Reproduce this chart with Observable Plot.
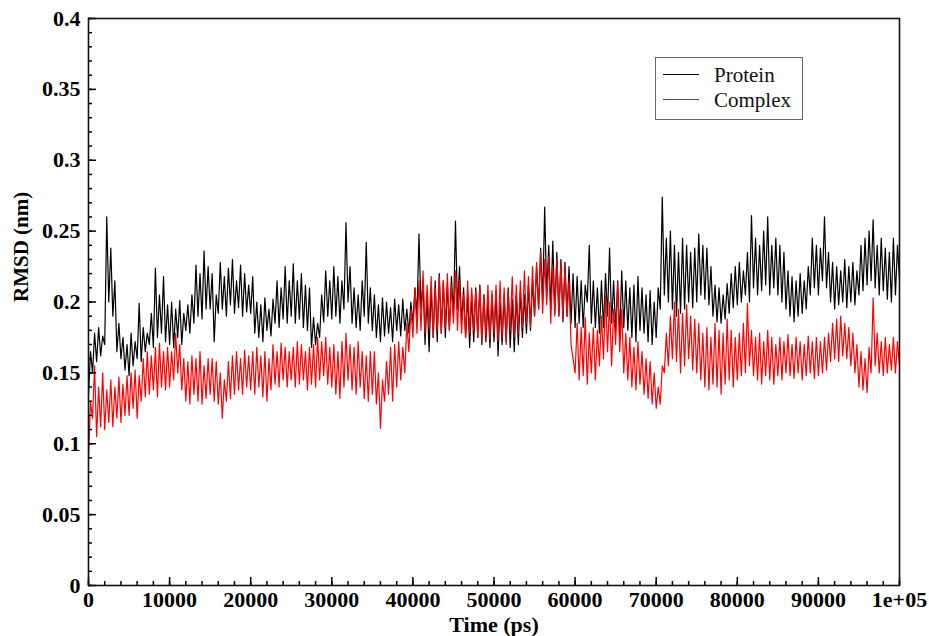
<!DOCTYPE html>
<html><head><meta charset="utf-8">
<script src="https://cdn.jsdelivr.net/npm/d3@7"></script>
<script src="https://cdn.jsdelivr.net/npm/@observablehq/plot@0.6"></script>
<style>
body{margin:0;background:#fff;}
#wrap{position:relative;width:929px;height:636px;overflow:hidden;}
#legend{position:absolute;left:655px;top:57px;width:146px;height:61px;border:1.5px solid #666;background:#fff;font-family:"Liberation Serif","Times New Roman",serif;font-size:21px;color:#111;}
.item{position:absolute;left:0;width:146px;height:24px;}
.swatch{position:absolute;left:7px;top:11px;width:36px;height:0;border-top:1.5px solid;}
.lab{position:absolute;left:58px;top:0;line-height:24px;}
</style></head>
<body>
<div id="wrap"></div>
<script>
const timeStep = 250;
const protein = [
  0.135,0.165,0.150,0.178,0.158,0.182,0.162,0.176,0.170,0.260, 0.200,0.238,0.190,0.215,0.165,0.185,0.160,0.175,0.152,0.170,
  0.148,0.178,0.155,0.172,0.160,0.199,0.158,0.182,0.165,0.178, 0.170,0.192,0.168,0.224,0.175,0.205,0.178,0.218,0.172,0.198,
  0.170,0.200,0.168,0.195,0.175,0.201,0.170,0.192,0.180,0.198, 0.178,0.205,0.185,0.226,0.190,0.220,0.188,0.236,0.195,0.225,
  0.195,0.220,0.172,0.205,0.192,0.228,0.195,0.218,0.190,0.224, 0.198,0.230,0.192,0.215,0.196,0.226,0.190,0.220,0.193,0.212,
  0.192,0.218,0.178,0.200,0.175,0.198,0.172,0.203,0.180,0.195, 0.176,0.202,0.185,0.215,0.182,0.210,0.188,0.225,0.185,0.215,
  0.190,0.227,0.185,0.215,0.188,0.220,0.182,0.212,0.180,0.210, 0.168,0.189,0.170,0.185,0.175,0.205,0.186,0.222,0.190,0.215,
  0.188,0.225,0.190,0.218,0.185,0.215,0.195,0.256,0.200,0.225, 0.185,0.210,0.182,0.205,0.180,0.215,0.190,0.242,0.185,0.210,
  0.180,0.205,0.175,0.198,0.172,0.203,0.176,0.200,0.178,0.196, 0.172,0.202,0.180,0.198,0.176,0.202,0.180,0.195,0.178,0.200,
  0.185,0.210,0.190,0.248,0.195,0.215,0.170,0.205,0.165,0.210, 0.175,0.215,0.172,0.220,0.178,0.215,0.175,0.212,0.180,0.218,
  0.190,0.257,0.195,0.225,0.185,0.210,0.175,0.205,0.168,0.205, 0.172,0.210,0.175,0.212,0.170,0.205,0.172,0.200,0.168,0.205,
  0.172,0.208,0.162,0.200,0.170,0.205,0.172,0.210,0.168,0.202, 0.165,0.205,0.170,0.208,0.175,0.205,0.178,0.212,0.180,0.215,
  0.190,0.225,0.195,0.238,0.200,0.267,0.205,0.240,0.195,0.243, 0.192,0.235,0.190,0.230,0.186,0.228,0.190,0.225,0.185,0.220,
  0.182,0.218,0.185,0.215,0.182,0.212,0.200,0.240,0.185,0.215, 0.182,0.210,0.178,0.215,0.182,0.220,0.190,0.238,0.185,0.215,
  0.180,0.215,0.175,0.222,0.182,0.215,0.180,0.210,0.175,0.212, 0.172,0.218,0.180,0.210,0.178,0.205,0.172,0.208,0.170,0.200,
  0.175,0.210,0.195,0.274,0.205,0.245,0.200,0.250,0.195,0.240, 0.190,0.235,0.192,0.245,0.195,0.240,0.200,0.235,0.196,0.238,
  0.200,0.248,0.205,0.240,0.202,0.238,0.198,0.225,0.190,0.212, 0.186,0.210,0.185,0.205,0.188,0.213,0.192,0.220,0.196,0.225,
  0.198,0.228,0.200,0.222,0.205,0.235,0.200,0.261,0.210,0.245, 0.205,0.240,0.208,0.250,0.212,0.260,0.205,0.240,0.210,0.245,
  0.205,0.240,0.200,0.235,0.195,0.222,0.190,0.218,0.186,0.215, 0.190,0.220,0.192,0.215,0.195,0.225,0.205,0.245,0.210,0.240,
  0.205,0.238,0.215,0.260,0.210,0.235,0.200,0.228,0.195,0.225, 0.198,0.222,0.200,0.230,0.196,0.225,0.200,0.228,0.198,0.222,
  0.205,0.240,0.208,0.245,0.212,0.250,0.215,0.258,0.210,0.240, 0.205,0.245,0.208,0.238,0.202,0.235,0.200,0.245,0.205,0.240,
  0.215
];
const complex = [
  0.090,0.130,0.118,0.155,0.105,0.140,0.112,0.150,0.110,0.138, 0.115,0.145,0.112,0.140,0.118,0.147,0.115,0.142,0.120,0.148,
  0.120,0.150,0.125,0.152,0.118,0.148,0.130,0.160,0.133,0.165, 0.135,0.162,0.138,0.168,0.133,0.171,0.140,0.165,0.138,0.168,
  0.140,0.165,0.145,0.178,0.150,0.170,0.138,0.160,0.130,0.158, 0.128,0.162,0.135,0.160,0.130,0.165,0.128,0.155,0.132,0.160,
  0.135,0.160,0.130,0.158,0.128,0.150,0.118,0.145,0.130,0.158, 0.132,0.162,0.135,0.165,0.138,0.160,0.135,0.166,0.140,0.162,
  0.138,0.165,0.135,0.168,0.140,0.162,0.133,0.165,0.130,0.160, 0.138,0.170,0.142,0.165,0.140,0.171,0.145,0.168,0.140,0.165,
  0.145,0.168,0.140,0.172,0.142,0.170,0.145,0.165,0.138,0.168, 0.142,0.170,0.140,0.175,0.145,0.172,0.148,0.175,0.142,0.168,
  0.140,0.170,0.135,0.165,0.132,0.172,0.140,0.178,0.145,0.170, 0.138,0.168,0.135,0.172,0.140,0.165,0.132,0.162,0.130,0.165,
  0.135,0.165,0.128,0.150,0.111,0.145,0.130,0.158,0.135,0.168, 0.130,0.170,0.140,0.172,0.145,0.168,0.150,0.185,0.165,0.195,
  0.175,0.210,0.178,0.215,0.180,0.222,0.178,0.212,0.182,0.218, 0.175,0.210,0.180,0.218,0.178,0.215,0.182,0.220,0.180,0.212,
  0.185,0.222,0.180,0.215,0.178,0.205,0.175,0.215,0.178,0.210, 0.180,0.208,0.175,0.212,0.172,0.205,0.176,0.212,0.174,0.208,
  0.178,0.212,0.172,0.215,0.175,0.210,0.170,0.208,0.180,0.218, 0.175,0.212,0.178,0.215,0.182,0.222,0.185,0.218,0.182,0.225,
  0.190,0.228,0.195,0.236,0.192,0.230,0.198,0.232,0.185,0.225, 0.190,0.230,0.192,0.228,0.188,0.225,0.190,0.215,0.170,0.160,
  0.150,0.185,0.145,0.182,0.148,0.189,0.142,0.178,0.150,0.182, 0.145,0.180,0.155,0.190,0.160,0.205,0.165,0.200,0.155,0.195,
  0.170,0.213,0.165,0.195,0.150,0.178,0.145,0.175,0.140,0.168, 0.138,0.172,0.142,0.165,0.135,0.160,0.132,0.158,0.128,0.150,
  0.125,0.140,0.128,0.155,0.150,0.178,0.155,0.190,0.160,0.200, 0.158,0.195,0.150,0.192,0.155,0.198,0.160,0.190,0.152,0.188,
  0.150,0.185,0.145,0.178,0.140,0.182,0.138,0.175,0.142,0.185, 0.140,0.180,0.135,0.178,0.142,0.188,0.145,0.180,0.140,0.175,
  0.145,0.178,0.148,0.185,0.150,0.199,0.155,0.180,0.148,0.175, 0.145,0.178,0.142,0.172,0.148,0.180,0.145,0.175,0.142,0.170,
  0.148,0.175,0.145,0.172,0.150,0.177,0.148,0.170,0.146,0.175, 0.150,0.172,0.145,0.170,0.148,0.176,0.150,0.172,0.146,0.175,
  0.148,0.172,0.150,0.175,0.152,0.178,0.158,0.185,0.160,0.188, 0.158,0.190,0.162,0.185,0.160,0.182,0.155,0.178,0.150,0.170,
  0.140,0.165,0.138,0.160,0.136,0.168,0.150,0.203,0.155,0.178, 0.150,0.172,0.148,0.175,0.150,0.170,0.152,0.175,0.150,0.172,
  0.155
];
const seriesNames = ["Protein", "Complex"];
const seriesColors = ["#000000", "#ff0000"];
const xMajor = [0,10000,20000,30000,40000,50000,60000,70000,80000,90000,100000];
const xTickLabels = ["0","10000","20000","30000","40000","50000","60000","70000","80000","90000","1e+05"];
const xMinor = d3.range(0, 100001, 2000);
const yMajor = [0,0.05,0.1,0.15,0.2,0.25,0.3,0.35,0.4];
const yTickLabels = ["0","0.05","0.1","0.15","0.2","0.25","0.3","0.35","0.4"];
const yMinor = d3.range(0, 41).map(i => i / 100);
const xLabel = "Time (ps)";
const yLabel = "RMSD (nm)";

const toRows = (arr) => arr.map((v, i) => ({t: i * timeStep, v}));

const W = 929, H = 636, mL = 88, mR = 30, mT = 18, mB = 51;
const plotW = W - mL - mR, plotH = H - mT - mB;
const font = '"Liberation Serif","Times New Roman",serif';

const chart = Plot.plot({
  width: W, height: H,
  marginLeft: mL, marginRight: mR, marginTop: mT, marginBottom: mB,
  style: {fontFamily: font, fontSize: "22px", fontWeight: "bold", background: "white", color: "#000"},
  x: {domain: [0, 100000]},
  y: {domain: [0, 0.4]},
  marks: [
    Plot.line(toRows(protein), {x: "t", y: "v", stroke: seriesColors[0], strokeWidth: 1.2}),
    Plot.line(toRows(complex), {x: "t", y: "v", stroke: seriesColors[1], strokeWidth: 1.2}),
    Plot.ruleX(xMinor, {x: d => d, insetTop: plotH - 4, strokeWidth: 1.5, stroke: "#000"}),
    Plot.ruleX(xMajor, {x: d => d, insetTop: plotH - 8, strokeWidth: 1.5, stroke: "#000"}),
    Plot.ruleY(yMinor, {y: d => d, insetRight: plotW - 4, strokeWidth: 1.5, stroke: "#000"}),
    Plot.ruleY(yMajor, {y: d => d, insetRight: plotW - 8, strokeWidth: 1.5, stroke: "#000"}),
    Plot.frame({stroke: "#111", strokeWidth: 1.6}),
    Plot.axisX({ticks: xMajor, tickSize: 0, tickPadding: 6, tickFormat: d => xTickLabels[xMajor.indexOf(d)], label: null}),
    Plot.axisY({ticks: yMajor, tickSize: 0, tickPadding: 8, tickFormat: d => yTickLabels[yMajor.indexOf(d)], label: null}),
    Plot.text([xLabel], {text: d => d, frameAnchor: "bottom", dy: 46, fontSize: 22}),
    Plot.text([yLabel], {text: d => d, frameAnchor: "left", rotate: -90, dx: -67, fontSize: 21})
  ]
});

const wrap = document.getElementById("wrap");
wrap.appendChild(chart);
const legend = document.createElement("div");
legend.id = "legend";
seriesNames.forEach((name, i) => {
  const item = document.createElement("div");
  item.className = "item";
  item.style.top = (5 + i * 25) + "px";
  const sw = document.createElement("div");
  sw.className = "swatch";
  sw.style.borderTopColor = seriesColors[i];
  const lab = document.createElement("span");
  lab.className = "lab";
  lab.textContent = name;
  item.appendChild(sw); item.appendChild(lab);
  legend.appendChild(item);
});
wrap.appendChild(legend);
</script>
</body></html>
